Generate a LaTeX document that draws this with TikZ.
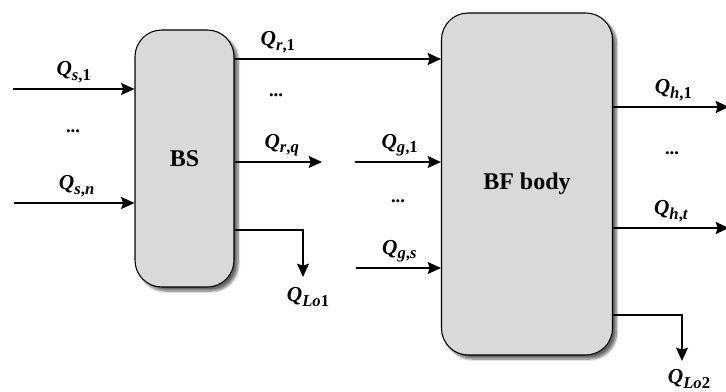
\documentclass[tikz,border=0pt]{standalone}
\usepackage{fontspec}
\setmainfont{Liberation Serif}
\usetikzlibrary{arrows.meta,shadows.blur}

\definecolor{boxgray}{HTML}{D9D9D9}

% flow label: bold italic Q with a lowered, smaller subscript
\newcommand\qflow[1]{\textbf{\textit{Q}\raisebox{-0.22em}{\fontsize{12.5pt}{12.5pt}\selectfont #1}}}
\newcommand\qs[1]{\textit{#1}}

\tikzset{
  unit/.style={
    draw=black, line width=0.8pt, fill=boxgray, rounded corners=20pt,
    blur shadow={shadow xshift=3pt, shadow yshift=-3pt, shadow blur steps=10, shadow opacity=60},
    font=\fontsize{18pt}{18pt}\selectfont\bfseries, inner sep=0pt},
  flow/.style={line width=1pt, -{Stealth[length=10pt, width=9pt, inset=1.5pt]}},
  lab/.style={font=\fontsize{16pt}{16pt}\selectfont, inner sep=0pt},
  above line/.style={lab, yshift=12.5pt},
  dots/.style={font=\fontsize{14pt}{14pt}\selectfont\bfseries, inner sep=0pt}
}

\begin{document}
\begin{tikzpicture}[x=0.75pt, y=-0.75pt]
\useasboundingbox (0,0) rectangle (726,392);

% the two units
\node[unit, minimum width=74.25pt, minimum height=192.75pt] (bs) at (184.5,158.5) {BS};
\node[unit, minimum width=128.25pt, minimum height=256.5pt] (bf) at (527,184) {BF body};

% free ends of the open connectors
\coordinate (s1) at (13,89);
\coordinate (sn) at (14,203);
\coordinate (rq) at (322,162);
\coordinate (g1) at (355,162);
\coordinate (gs) at (356,268);
\coordinate (h1) at (729,107);
\coordinate (ht) at (729,228);
\coordinate (lo1) at (303,277);
\coordinate (lo2) at (682,361);

% feed streams into BS
\draw[flow] (s1) -- (s1 -| bs.west) node[above line, midway] {\qflow{\qs{s},1}};
\draw[flow] (sn) -- (sn -| bs.west) node[above line, pos=0.52] {\qflow{\qs{s},\qs{n}}};
\node[dots] (d1) at (73,131) {...};

% streams leaving BS
\draw[flow] (bs.east |- 0,59) -- (bf.west |- 0,59) node[above line, pos=0.21] {\qflow{\qs{r},1}};
\node[dots] (d2) at (276,95) {...};
\draw[flow] (bs.east |- rq) -- (rq) node[above line, pos=0.54] {\qflow{\qs{r},\qs{q}}};
\draw[flow] (bs.east |- 0,230) -| (lo1);
\node[lab] (qlo1) at (308,297) {\qflow{\qs{Lo}1}};

% gas streams into the BF body
\draw[flow] (g1) -- (g1 -| bf.west) node[above line, pos=0.52] {\qflow{\qs{g},1}};
\node[dots] (d3) at (398,201) {...};
\draw[flow] (gs) -- (gs -| bf.west) node[above line, pos=0.51] {\qflow{\qs{g},\qs{s}}};

% streams leaving the BF body
\draw[flow] (bf.east |- h1) -- (h1) node[above line, pos=0.52] {\qflow{\qs{h},1}};
\node[dots] (d4) at (672,153) {...};
\draw[flow] (bf.east |- ht) -- (ht) node[above line, pos=0.5] {\qflow{\qs{h},\qs{t}}};
\draw[flow] (bf.east |- 0,315) -| (lo2);
\node[lab] (qlo2) at (689,379) {\qflow{\qs{Lo}2}};
\end{tikzpicture}
\end{document}
